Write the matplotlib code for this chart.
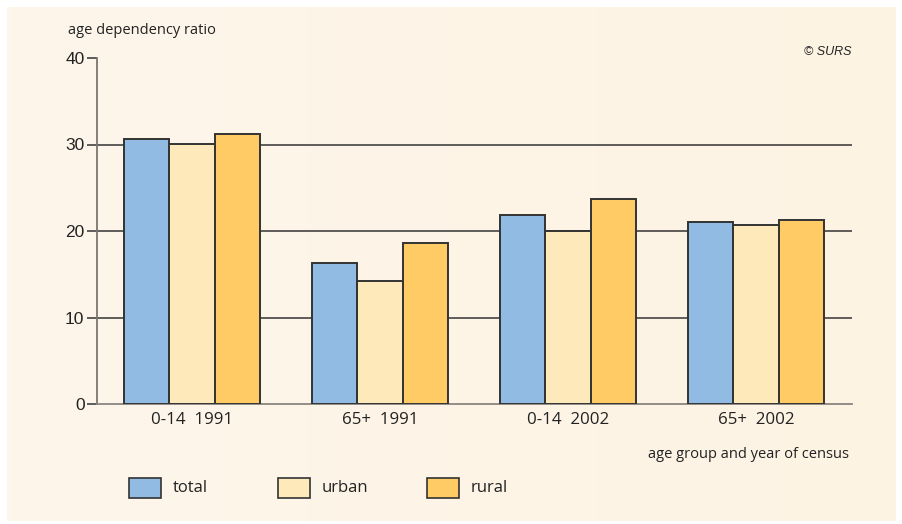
import matplotlib
matplotlib.use("Agg")
import matplotlib.pyplot as plt
import numpy as np
from matplotlib.patches import Rectangle

categories = ["0-14  1991", "65+  1991", "0-14  2002", "65+  2002"]
series_names = ["total", "urban", "rural"]
total = [30.6, 16.3, 21.8, 21.0]
urban = [30.1, 14.2, 20.0, 20.7]
rural = [31.2, 18.6, 23.7, 21.3]
yticks = [0, 10, 20, 30, 40]

colors = ["#92BBE3", "#FDE9B9", "#FECB65"]
edge = "#333333"

W, H = 902, 524
fig = plt.figure(figsize=(W / 100, H / 100), dpi=100)
fig.patch.set_facecolor("white")

# background panel with slight horizontal gradient
bg = fig.add_axes([7 / W, 1 - 521 / H, (895 - 7) / W, (521 - 7) / H], zorder=0)
grad = np.linspace(0, 1, 256)[None, :, None]
c0 = np.array([253, 246, 235]) / 255
c1 = np.array([253, 243, 227]) / 255
img = c0 + (c1 - c0) * grad
bg.imshow(img, aspect="auto", extent=[0, 1, 0, 1])
bg.set_axis_off()

left, right, top, bottom = 97, 852, 58, 404
ax = fig.add_axes([left / W, 1 - bottom / H, (right - left) / W, (bottom - top) / H], zorder=1)
ax.patch.set_alpha(0)

x = np.arange(len(categories))
bw = 0.242
for i, (vals, c) in enumerate(zip([total, urban, rural], colors)):
    ax.bar(x + (i - 1) * bw, vals, width=bw, color=c, edgecolor=edge,
           linewidth=1.4, zorder=3, label=series_names[i])

ax.set_xlim(-0.505, 3.511)
ax.set_ylim(0, 40)
for yv in yticks[1:-1]:
    ax.axhline(yv, color="#333333", linewidth=1.1, zorder=1)

for s in ["top", "right"]:
    ax.spines[s].set_visible(False)
ax.spines["left"].set_color("#7a7570")
ax.spines["bottom"].set_color("#8a8580")
ax.spines["left"].set_linewidth(1.3)
ax.spines["bottom"].set_linewidth(1.3)

ax.set_yticks(yticks)
ax.set_yticklabels([str(v) for v in yticks], fontfamily="Liberation Sans", fontsize=12.5, color="#222222")
ax.tick_params(axis="y", length=7, width=1.1, color="#333333", pad=2)
ax.set_xticks(x)
ax.set_xticklabels(categories, fontfamily="Open Sans", fontsize=12.2, color="#222222")
ax.tick_params(axis="x", length=0, pad=6)

fig.text(68 / W, 1 - 31 / H, "age dependency ratio", fontfamily="Open Sans", fontsize=10.5,
         color="#222222", va="center", ha="left")
fig.text(852 / W, 1 - 52 / H, "© SURS", fontfamily="Liberation Sans", fontstyle="italic",
         fontsize=9, color="#222222", va="center", ha="right")
fig.text(849 / W, 1 - 454 / H, "age group and year of census", fontfamily="Open Sans",
         fontsize=10.5, color="#222222", va="center", ha="right")

# legend
leg_x = [129, 278, 427]
for lx, name, c in zip(leg_x, series_names, colors):
    fig.patches.append(Rectangle((lx / W, 1 - 498 / H), 32 / W, 20 / H, transform=fig.transFigure,
                                 facecolor=c, edgecolor=edge, linewidth=1.2, zorder=5))
    fig.text((lx + 44) / W, 1 - 488 / H, name, fontfamily="Open Sans", fontsize=12,
             color="#222222", va="center", ha="left")

fig.savefig("out.png", dpi=100)
